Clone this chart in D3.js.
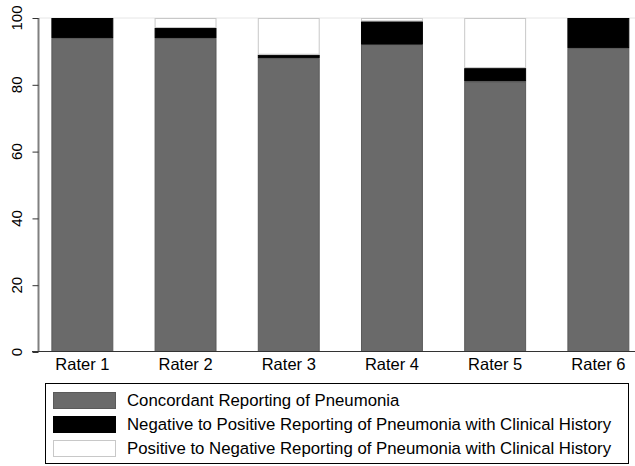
<!DOCTYPE html>
<html><head><meta charset="utf-8">
<script src="https://cdn.jsdelivr.net/npm/d3@7"></script>
<style>body{margin:0;background:#fff}svg{display:block}text{font-family:"Liberation Sans",Arial,sans-serif}</style>
</head><body>
<svg id="c" width="635" height="466"></svg>
<script>
const categories = ["Rater 1","Rater 2","Rater 3","Rater 4","Rater 5","Rater 6"];
const concordant = [94, 94, 88, 92, 81, 91];
const negToPos   = [6, 3, 1, 7, 4, 9];
const posToNeg   = [0, 3, 11, 1, 15, 0];
const seriesNames = ["Concordant Reporting of Pneumonia",
  "Negative to Positive Reporting of Pneumonia with Clinical History",
  "Positive to Negative Reporting of Pneumonia with Clinical History"];
const yTicks = [0, 20, 40, 60, 80, 100];

const fills = ["#6a6a6a", "#000000", "#ffffff"];
const strokes = ["#5a5a5a", "#000000", "#c8c8c8"];

const svg = d3.select("#c");
const x = d3.scaleBand().domain(categories).range([39, 641.7]).paddingInner(0.4).paddingOuter(0.12);
const y = d3.scaleLinear().domain([0, 100]).range([352, 18]);

const rows = categories.map((c, i) => ({cat: c, s0: concordant[i], s1: negToPos[i], s2: posToNeg[i]}));
const stack = d3.stack().keys(["s0", "s1", "s2"])(rows);

// gridline at 100
svg.append("line").attr("x1", 39).attr("x2", 635).attr("y1", y(100)).attr("y2", y(100))
  .attr("stroke", "#e6e6e6").attr("stroke-width", 1);

stack.forEach((layer, k) => {
  svg.append("g").selectAll("rect").data(layer.filter(d => d[1] - d[0] > 0)).join("rect")
    .attr("x", d => x(d.data.cat) + 0.5)
    .attr("width", x.bandwidth() - 1)
    .attr("y", d => y(d[1]) + 0.5)
    .attr("height", d => y(d[0]) - y(d[1]) - 1)
    .attr("fill", fills[k]).attr("stroke", strokes[k]).attr("stroke-width", 1);
});

// y axis
const ya = svg.append("g").attr("transform", "translate(38.5,0)")
  .call(d3.axisLeft(y).tickValues(yTicks).tickSize(6).tickPadding(6));
ya.select(".domain").attr("stroke", "#808080").attr("stroke-width", 2).attr("d", `M0,${y(100)}V${y(0)}`);
ya.selectAll(".tick line").attr("stroke", "#333");
ya.selectAll(".tick").attr("transform", null);
ya.selectAll(".tick line").attr("transform", d => `translate(0,${y(d)+0.5})`);
ya.selectAll(".tick text").attr("font-size", 15).attr("fill", "#000")
  .attr("text-anchor", "middle").attr("x", 0).attr("y", 0).attr("dy", null)
  .attr("transform", d => `translate(-16.5,${y(d)}) rotate(-90)`);

// x axis
const xa = svg.append("g").attr("transform", "translate(0,351.5)")
  .call(d3.axisBottom(x).tickSize(0).tickPadding(7));
xa.select(".domain").attr("stroke", "#333").attr("d", "M32,0H635");
xa.selectAll(".tick text").attr("font-size", 16.5).attr("fill", "#000").attr("dy", "0.71em");

// legend
const lg = svg.append("g");
lg.append("rect").attr("x", 45.5).attr("y", 383.5).attr("width", 583).attr("height", 80)
  .attr("fill", "#fff").attr("stroke", "#000").attr("stroke-width", 1);
seriesNames.forEach((n, i) => {
  const yy = 392 + i * 24;
  lg.append("rect").attr("x", 53.5).attr("y", yy + 0.5).attr("width", 62).attr("height", 16)
    .attr("fill", fills[i]).attr("stroke", strokes[i]);
  lg.append("text").attr("x", 127).attr("y", yy + 8.5).attr("dy", "0.35em")
    .attr("font-size", 16.8).attr("fill", "#000").text(n);
});
</script>
</body></html>
